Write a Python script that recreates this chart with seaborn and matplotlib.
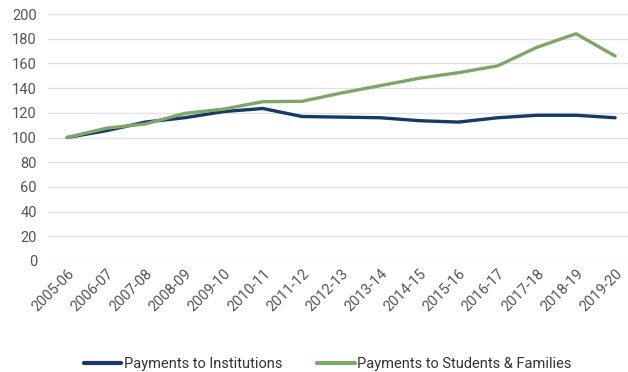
import matplotlib
matplotlib.use("Agg")
import matplotlib.pyplot as plt
import seaborn as sns
import pandas as pd

years = ["2005-06", "2006-07", "2007-08", "2008-09", "2009-10", "2010-11", "2011-12",
         "2012-13", "2013-14", "2014-15", "2015-16", "2016-17", "2017-18", "2018-19", "2019-20"]
institutions = [100, 105.5, 112.5, 116, 121, 123.5, 117, 116.5, 116, 113.6, 112.5, 116, 118, 118, 116]
students = [100, 107.5, 111, 119.5, 123, 129, 129.3, 136, 142, 148, 152.5, 158, 173, 184, 166]

series_names = ["Payments to Institutions", "Payments to Students & Families"]
colors = ["#163a63", "#7fa66a"]

df = pd.DataFrame({
    "year": years * 2,
    "pos": list(range(len(years))) * 2,
    "value": institutions + students,
    "series": [series_names[0]] * len(years) + [series_names[1]] * len(years),
})

sns.set_theme(style="white")
plt.rcParams["font.family"] = ["Roboto", "DejaVu Sans"]

fig = plt.figure(figsize=(6.28, 3.72), dpi=100)
ax = fig.add_axes([48 / 628, 1 - 261 / 372, 580 / 628, 247 / 372])

sns.lineplot(data=df, x="pos", y="value", hue="series", palette=colors,
             linewidth=2.4, ax=ax, legend=False)

ax.set_ylim(0, 200)
ax.set_xlim(-0.49, 14.33)
ax.set_yticks(range(0, 201, 20))
ax.set_xticks(range(len(years)))
ax.set_xticklabels(years, rotation=45, ha="right", rotation_mode="anchor")
ax.tick_params(axis="both", colors="#555555", labelsize=10.5, length=0)
ax.tick_params(axis="x", pad=4)
ax.tick_params(axis="y", pad=8)
ax.grid(axis="y", color="#e2e2e2", linewidth=1)
ax.set_axisbelow(True)
for s in ax.spines.values():
    s.set_visible(False)
ax.set_xlabel("")
ax.set_ylabel("")

handles = [plt.Line2D([], [], color=c, linewidth=3) for c in colors]
fig.legend(handles, series_names, loc="center", bbox_to_anchor=(327.5 / 628, 1 - 364 / 372),
           ncol=2, frameon=False, fontsize=10.5, handlelength=2.6, handletextpad=0.15,
           columnspacing=2.4, labelcolor="#333333")

fig.savefig("out.png", dpi=100)
